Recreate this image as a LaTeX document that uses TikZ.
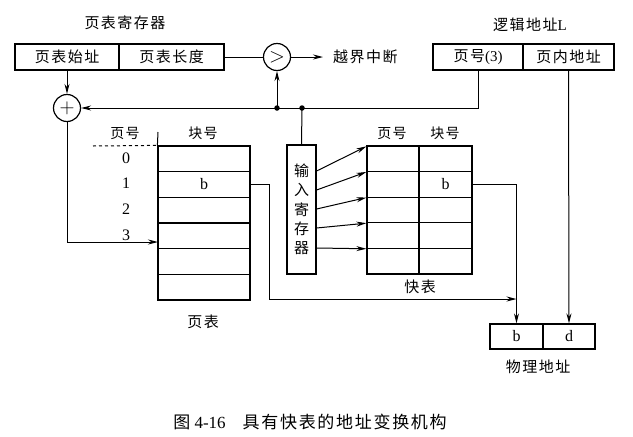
\documentclass[tikz,border=0pt]{standalone}
\usepackage{fontspec}
\setmainfont{Liberation Serif}
\newfontfamily\cjk[LetterSpace=10]{Noto Sans CJK SC}
\usetikzlibrary{arrows.meta,calc}
\begin{document}
\begin{tikzpicture}[x=1pt,y=-1pt,
  box/.style={draw,line width=1.2pt,inner sep=0pt,minimum height=26pt,font=\fontsize{15}{16}\selectfont},
  cell/.style={draw,line width=1.2pt,inner sep=0pt,minimum height=25.67pt,font=\fontsize{16}{16}\selectfont},
  pcell/.style={cell,minimum width=92pt},
  lbl/.style={inner sep=0pt,font=\fontsize{15}{16}\selectfont},
  hlbl/.style={inner sep=0pt,font=\fontsize{14}{16}\selectfont},
  ring/.style={draw,circle,line width=1.2pt,inner sep=0pt,minimum size=27pt,font=\fontsize{20}{20}\selectfont},
  arr/.style={line width=1pt,-{Stealth[length=10pt,width=5pt]}},
  ln/.style={line width=1pt},
  dot/.style={circle,fill,inner sep=0pt,minimum size=5.5pt}]
\useasboundingbox (0,0) rectangle (633,437);
% page table register
\node[lbl] (pregl) at (125,23) {\cjk 页表寄存器};
\node[box,minimum width=104pt] (preg1) at (67,57) {\cjk 页表始址};
\node[box,minimum width=105pt] (preg2) at (171.5,57) {\cjk 页表长度};
\node[ring] (cmp) at (277,57) {$>$};
\node[lbl,anchor=west] (irq) at (333,57) {\cjk 越界中断};
\node[ring] (plus) at (67,108) {$+$};
% logical address
\node[lbl] (lal) at (530,25) {{\cjk 逻辑地址}L};
\node[box,minimum width=90pt] (la1) at (478,57) {{\cjk 页号}(3)};
\node[box,minimum width=91pt] (la2) at (568.5,57) {\cjk 页内地址};
% page table
\foreach \i in {0,...,5}{
  \node[pcell] (pt\i) at (204,{146+25.67*(\i+0.5)}) {};
}
\node at (pt1) [font=\fontsize{16}{16}\selectfont] (ptb) {b};
\node[hlbl] (pth1) at (125,133) {\cjk 页号};
\node[hlbl] (pth2) at (203,133) {\cjk 块号};
\node[lbl] (ptl) at (203,322) {\cjk 页表};
\foreach \i in {0,...,3}{
  \node[inner sep=0pt,font=\fontsize{16}{16}\selectfont] (pn\i) at (126,{146+25.67*(\i+0.5)-1}) {\i};
}
\coordinate (tickt) at (158,132);
\coordinate (dashl) at (93,146);
\draw[ln] (tickt) -- (pt0.north west);
\draw[ln,dashed] (dashl) -- (pt0.north west);
% input register
\node[draw,line width=1.2pt,minimum width=29pt,minimum height=129pt,inner sep=0pt,
  align=center,font=\fontsize{15}{19.3}\selectfont\cjk] (inreg) at (301.5,209.5) {输\\入\\寄\\存\\器};
% TLB
\foreach \i in {0,...,4}{
  \node[cell,minimum width=52pt] (tl\i0) at (393,{146+25.6*(\i+0.5)}) {};
  \node[cell,minimum width=53pt] (tl\i1) at (445.5,{146+25.6*(\i+0.5)}) {};
}
\node at (tl11) [font=\fontsize{16}{16}\selectfont] (tlb) {b};
\node[hlbl] (tlh1) at (392,133) {\cjk 页号};
\node[hlbl] (tlh2) at (445,133) {\cjk 块号};
\node[lbl] (tll) at (420,287) {\cjk 快表};
% physical address
\node[box,minimum width=53pt,minimum height=25pt,font=\fontsize{16}{16}\selectfont] (pa1) at (516.5,336.5) {b};
\node[box,minimum width=52pt,minimum height=25pt,font=\fontsize{16}{16}\selectfont] (pa2) at (569,336.5) {d};
\node[lbl] (pal) at (538,367) {\cjk 物理地址};
% caption
\node[inner sep=0pt,font=\fontsize{17}{20}\selectfont] (cap) at (310,422) {{\cjk 图} 4-16\hspace{1em}{\cjk 具有快表的地址变换机构}};
% connectors
\coordinate (d1) at (277,108);
\coordinate (d2) at (302,108);
\draw[ln] (preg2.east) -- (cmp.west);
\draw[arr] (cmp.east) -- ([xshift=-10pt]irq.west);
\draw[arr] (preg1.south) -- (plus.north);
\draw[arr] (la1.south) |- (plus.east);
\draw[arr] (d1) -- (cmp.south);
\draw[ln] (d2) -- (inreg.north);
\node[dot] at (d1) {};
\node[dot] at (d2) {};
\coordinate (pt3in) at (158,242);
\draw[arr] (plus.south) |- (pt3in);
\coordinate (bend) at (269,299);
\coordinate (junc) at (516.5,299);
\draw[arr] (pt1.east) -| (bend) -- (junc);
\draw[arr] (tl11.east) -| (pa1.north);
\draw[arr] (la2.south) -- (pa2.north);
\foreach \i/\y in {0/171,1/190,2/209,3/228,4/248}{
  \draw[arr] ([yshift=-(\y-209.5)*1pt]inreg.east) -- ([yshift=-1pt]tl\i0.north west);
}
\end{tikzpicture}
\end{document}
